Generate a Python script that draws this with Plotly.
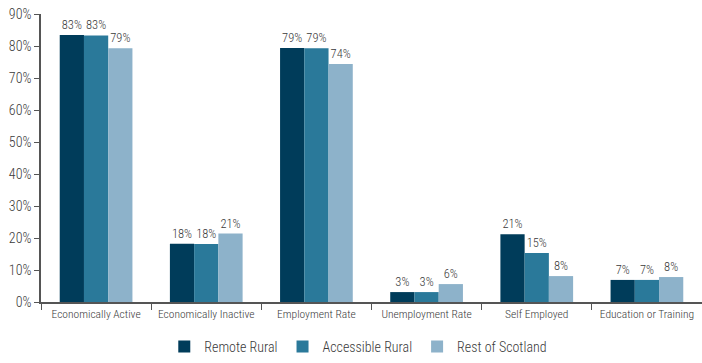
import plotly.graph_objects as go

categories = ["Economically Active", "Economically Inactive", "Employment Rate",
              "Unemployment Rate", "Self Employed", "Education or Training"]
remote_rural = [83.4, 18.2, 79.4, 3.1, 21.2, 6.9]
accessible_rural = [83.3, 18.1, 79.3, 3.1, 15.3, 6.9]
rest_of_scotland = [79.3, 21.4, 74.4, 5.6, 8.1, 7.8]
series_names = ["Remote Rural", "Accessible Rural", "Rest of Scotland"]
colors = ["#003c5a", "#2a799a", "#8db2ca"]
y_ticks = [0, 10, 20, 30, 40, 50, 60, 70, 80, 90]

FONT = "Roboto Condensed, Roboto, Liberation Sans, sans-serif"

fig = go.Figure()
for name, vals, col in zip(series_names, [remote_rural, accessible_rural, rest_of_scotland], colors):
    fig.add_trace(go.Bar(
        x=categories, y=vals, name=name,
        marker=dict(color=col, line=dict(width=0)),
        text=[f"{round(v)}%" for v in vals],
        textposition="outside",
        textfont=dict(family=FONT, size=12.5, color="#3a3a3a", weight=300),
        cliponaxis=False,
    ))

fig.update_layout(
    width=702, height=363,
    margin=dict(l=41, r=0, t=14, b=61),
    barmode="group", bargap=0.34, bargroupgap=0,
    plot_bgcolor="white", paper_bgcolor="white",
    font=dict(family=FONT, color="#3a3a3a", weight=300),
    showlegend=True,
    legend=dict(orientation="h", x=0.48, xanchor="center",
                yref="container", y=-0.025, yanchor="bottom",
                font=dict(family=FONT, size=14, color="#3a3a3a", weight=300),
                traceorder="normal"),
    xaxis=dict(showline=True, linecolor="#555555", linewidth=1.5,
               ticks="outside", tickson="boundaries", ticklen=6, tickcolor="#555555",
               tickangle=0, automargin=False,
               tickfont=dict(family=FONT, size=11.5, color="#3a3a3a", weight=300),
               showgrid=False),
    yaxis=dict(range=[0, 90], tickvals=y_ticks, ticktext=[f"{t}%" for t in y_ticks],
               showline=True, linecolor="#555555", linewidth=1.5,
               ticks="outside", ticklen=5, tickcolor="#555555", automargin=False,
               tickfont=dict(family=FONT, size=14, color="#3a3a3a", weight=300),
               showgrid=False, zeroline=False),
)

fig.write_html("out.html")
